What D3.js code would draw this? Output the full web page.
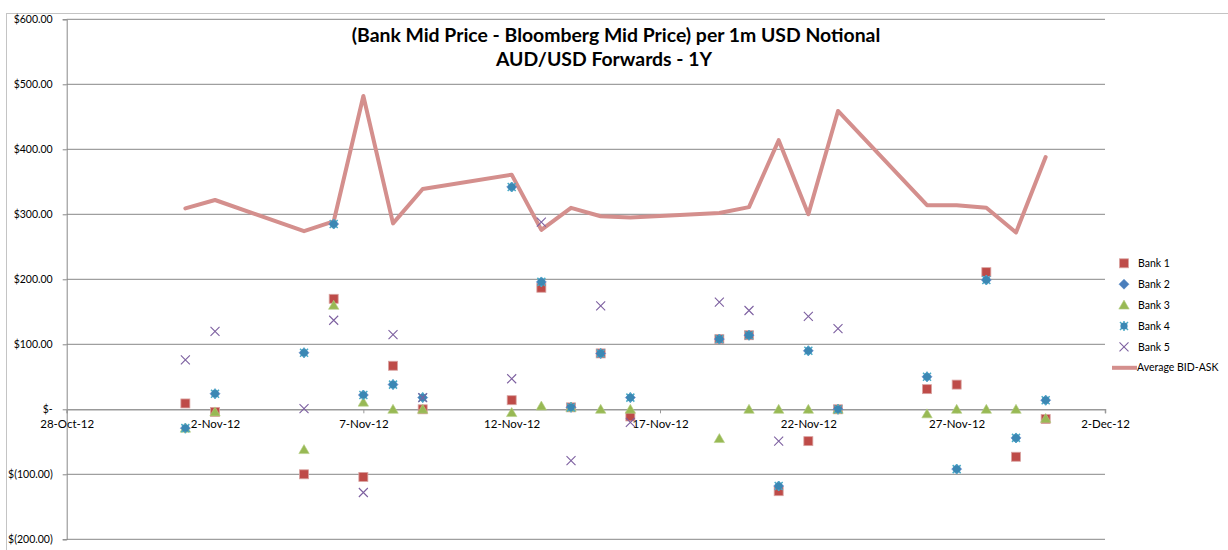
<!DOCTYPE html>
<html><head><meta charset="utf-8">
<script src="https://cdn.jsdelivr.net/npm/d3@7"></script>
<style>
html,body{margin:0;padding:0;background:#fff;}
svg{display:block;font-family:Lato,"Open Sans",sans-serif;}
</style></head>
<body>
<svg id="chart" width="1228" height="550"></svg>
<script>
// ---- data ----
const dates = ["1-Nov-12","2-Nov-12","5-Nov-12","6-Nov-12","7-Nov-12","8-Nov-12","9-Nov-12","12-Nov-12","13-Nov-12","14-Nov-12","15-Nov-12","16-Nov-12","19-Nov-12","20-Nov-12","21-Nov-12","22-Nov-12","23-Nov-12","26-Nov-12","27-Nov-12","28-Nov-12","29-Nov-12","30-Nov-12"];
const bank1 = [9, -4, -100, 170, -104, 67, 0, 14, 187, 3, 86, -11, 108, 114, -126, -49, 0, 31, 38, 211, -73, -15];
const bank2 = [-29, 24, 87, 285, 22, 38, 18, 342, 196, 3, 86, 18, 108, 114, -118, 90, 0, 50, -92, 199, -44, 14];
const bank3 = [-29, -4, -62, 160, 11, 0, 0, -5, 5, 3, 0, 0, -45, 0, 0, 0, 0, -7, 0, 0, 0, -14];
const bank4 = [-29, 24, 87, 285, 22, 38, 18, 342, 196, 3, 86, 18, 108, 114, -118, 90, 0, 50, -92, 199, -44, 14];
const bank5 = [76, 120, 1, 137, -128, 115, 18, 47, 288, -79, 159, -20, 165, 152, -49, 143, 124, null, null, null, null, null];
const avgBidAsk = [309, 322, 274, 289, 482, 286, 339, 361, 276, 310, 297, 295, 302, 311, 414, 300, 459, 314, 314, 310, 272, 388];
const seriesNames = ["Bank 1","Bank 2","Bank 3","Bank 4","Bank 5","Average BID-ASK"];
const xTickLabels = ["28-Oct-12","2-Nov-12","7-Nov-12","12-Nov-12","17-Nov-12","22-Nov-12","27-Nov-12","2-Dec-12"];
const yTickValues = [-200,-100,0,100,200,300,400,500,600];
const titleLines = ["(Bank Mid Price - Bloomberg Mid Price) per 1m USD Notional","AUD/USD Forwards - 1Y"];

// ---- setup ----
const parse = d3.utcParse("%d-%b-%y");
const svg = d3.select("#chart");
const L = 66.7, R = 1105, T = 19.3, B = 539.3;

const x = d3.scaleUtc().domain([parse(xTickLabels[0]), parse(xTickLabels[xTickLabels.length-1])]).range([L, R]);
const y = d3.scaleLinear().domain([-200, 600]).range([B, T]);

// outer border
svg.append("rect").attr("x",6.5).attr("y",13.5).attr("width",1240).attr("height",560)
  .attr("fill","none").attr("stroke","#c4c4c4").attr("stroke-width",1);

// gridlines
const yfmt = v => v === 0 ? "$-" : (v < 0 ? "$(" + d3.format(".2f")(-v) + ")" : "$" + d3.format(".2f")(v));
const yAxis = d3.axisLeft(y).tickValues(yTickValues).tickFormat(yfmt).tickSize(4).tickPadding(10);
svg.append("g").selectAll("line").data(yTickValues.filter(v => v !== 0)).join("line")
  .attr("x1", L).attr("x2", R).attr("y1", d => y(d)).attr("y2", d => y(d))
  .attr("stroke", "#888").attr("stroke-width", 1);

const gy = svg.append("g").attr("transform", `translate(${L},0)`).call(yAxis);
gy.select(".domain").attr("stroke", "#888");
gy.selectAll(".tick line").attr("stroke", "#888");
gy.selectAll("text").attr("font-size", 10.5).attr("fill", "#000").attr("font-family","Lato");

// x axis at zero
const xAxis = d3.axisBottom(x).tickValues(xTickLabels.map(parse)).tickFormat((d,i) => xTickLabels[i]).tickSize(4).tickPadding(7);
const gx = svg.append("g").attr("transform", `translate(0,${y(0)})`).call(xAxis);
gx.select(".domain").attr("stroke", "#999").attr("stroke-width",1.5);
gx.selectAll(".tick line").attr("stroke", "#999");
gx.selectAll("text").attr("font-size", 11.5).attr("fill", "#000").attr("font-family","Lato");

// title
const title = svg.append("g");
const titleX = [616, 604];
titleLines.forEach((t, i) => {
  title.append("text").attr("x", titleX[i]).attr("y", 42 + i * 24).attr("text-anchor", "middle")
    .attr("font-family", "Lato").attr("font-weight", "bold").attr("font-size", 19.4).attr("fill", "#000").text(t);
});

// line
const lineData = dates.map((d, i) => ({ d: parse(d), v: avgBidAsk[i] }));
const lineGen = d3.line().x(p => x(p.d)).y(p => y(p.v));
svg.append("path").datum(lineData).attr("d", lineGen).attr("fill", "none")
  .attr("stroke", "#D48F8D").attr("stroke-width", 4).attr("stroke-linejoin", "round").attr("stroke-linecap","round");

// marker shapes
const colors = ["#BE4B48", "#4A7EBB", "#98B954", "#4BACC6", "#7D60A0"];
function drawMarker(g, type) {
  if (type === 0) {
    g.append("rect").attr("x", -4.5).attr("y", -4.5).attr("width", 9).attr("height", 9)
      .attr("fill", colors[0]).attr("stroke", "#D9A3A1").attr("stroke-width", 0.8);
  } else if (type === 1) {
    g.append("path").attr("d", "M0,-5L5,0L0,5L-5,0Z").attr("fill", colors[1]).attr("stroke", "#5B8CC6").attr("stroke-width", 0.6);
  } else if (type === 2) {
    g.append("path").attr("d", "M0,-5L5.2,4L-5.2,4Z").attr("fill", colors[2]).attr("stroke", "#B5CF85").attr("stroke-width", 0.6);
  } else if (type === 3) {
    g.append("path").attr("d", "M-4,-4L4,4M-4,4L4,-4M0,-5L0,5").attr("stroke", colors[3]).attr("stroke-width", 1.5).attr("fill","none");
    g.append("circle").attr("r", 3.6).attr("fill", "#3B88B4");
  } else if (type === 4) {
    g.append("path").attr("d", "M-4.5,-4.5L4.5,4.5M-4.5,4.5L4.5,-4.5").attr("stroke", colors[4]).attr("stroke-width", 1.1).attr("fill","none");
  }
}

const banks = [bank1, bank2, bank3, bank4, bank5];
banks.forEach((arr, si) => {
  const pts = dates.map((d, i) => ({ d: parse(d), v: arr[i] })).filter(p => p.v !== null);
  svg.append("g").selectAll("g").data(pts).join("g")
    .attr("transform", p => `translate(${x(p.d)},${y(p.v)})`)
    .each(function () { drawMarker(d3.select(this), si); });
});

// legend
const lg = svg.append("g");
seriesNames.forEach((name, i) => {
  const ly = 263.3 + i * 20.9;
  const g = lg.append("g").attr("transform", `translate(1124,${ly})`);
  if (i < 5) drawMarker(g, i);
  else g.append("line").attr("x1", -12).attr("x2", 13).attr("stroke", "#D48F8D").attr("stroke-width", 4);
  lg.append("text").attr("x", i < 5 ? 1138 : 1137).attr("y", ly).attr("dy", "0.35em")
    .attr("font-family", "Lato").attr("font-size", 10.5).attr("fill", "#000").text(name);
});
</script>
</body></html>
